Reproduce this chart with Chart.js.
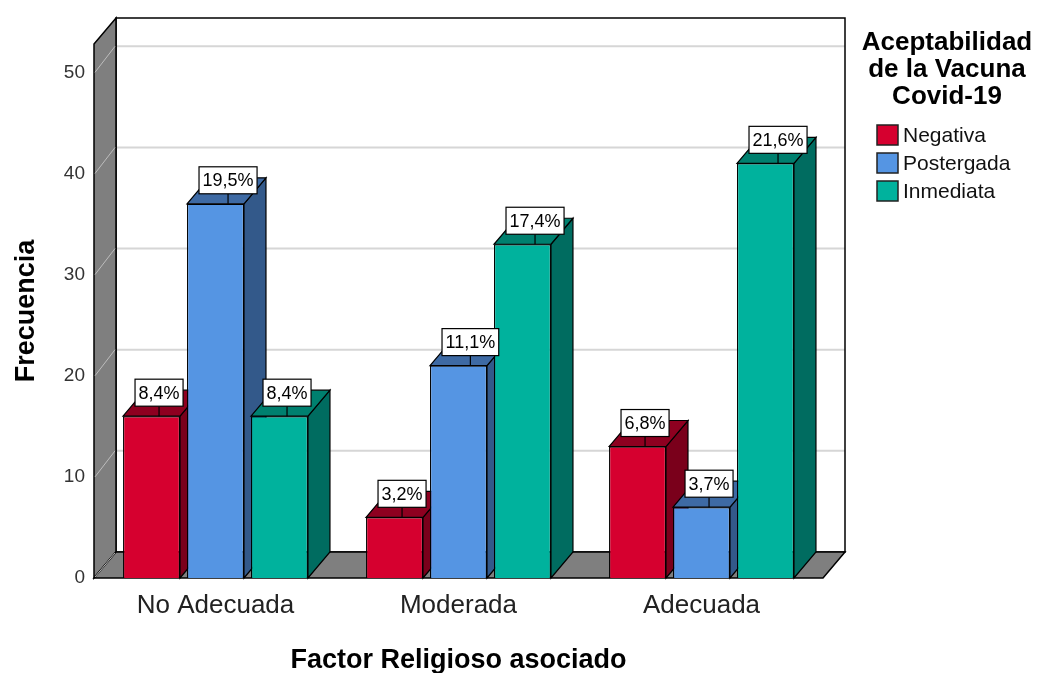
<!DOCTYPE html>
<html>
<head>
<meta charset="utf-8">
<script src="https://cdn.jsdelivr.net/npm/chart.js@4"></script>
<style>
  html, body { margin: 0; padding: 0; background: #fff; }
</style>
</head>
<body>
<canvas id="chart" width="1043" height="673"></canvas>
<script>
'use strict';

// ------------------------------- Data ------------------------------//
const categories = ['No Adecuada', 'Moderada', 'Adecuada'];
const seriesNames = ['Negativa', 'Postergada', 'Inmediata'];
const negativa = [16, 6, 13];
const postergada = [37, 21, 7];
const inmediata = [16, 33, 41];
const yTicks = [0, 10, 20, 30, 40, 50];

// ------------------------------- Styles ------------------------------//
const FONT = "'Liberation Sans', Arial, sans-serif";
const DX = 22;   // depth offset to the right
const DY = 26;   // depth offset upwards
const frontColors = ['#d6002f', '#5595e3', '#00b29d'];
const topColors = ['#8e0020', '#3e6aa4', '#00806f'];
const sideColors = ['#7a001b', '#33598a', '#006c60'];

const allCounts = [negativa, postergada, inmediata];
const total = allCounts.flat().reduce((a, b) => a + b, 0);

function pctLabel(v) {
  return (v / total * 100).toFixed(1).replace('.', ',') + '%';
}

function poly(ctx, pts, fill, stroke, lw) {
  ctx.beginPath();
  ctx.moveTo(pts[0][0], pts[0][1]);
  for (let i = 1; i < pts.length; i++) ctx.lineTo(pts[i][0], pts[i][1]);
  ctx.closePath();
  if (fill) { ctx.fillStyle = fill; ctx.fill(); }
  if (stroke) { ctx.lineWidth = lw || 1; ctx.strokeStyle = stroke; ctx.stroke(); }
}

// walls, floor and the depth faces of every bar
const depthPlugin = {
  id: 'depth3d',
  beforeDatasetsDraw(chart) {
    const {ctx, chartArea: a, scales: {y}} = chart;
    ctx.save();

    // back wall
    poly(ctx, [[a.left + DX, a.top - DY], [a.right + DX, a.top - DY],
      [a.right + DX, a.bottom - DY], [a.left + DX, a.bottom - DY]], '#fff');
    ctx.lineWidth = 2;
    ctx.strokeStyle = '#d6d6d6';
    for (const t of y.ticks) {
      if (t.value === 0) continue;
      const py = y.getPixelForValue(t.value) - DY;
      ctx.beginPath();
      ctx.moveTo(a.left + DX, py);
      ctx.lineTo(a.right + DX, py);
      ctx.stroke();
    }
    poly(ctx, [[a.left + DX, a.top - DY], [a.right + DX, a.top - DY],
      [a.right + DX, a.bottom - DY], [a.left + DX, a.bottom - DY]], null, '#000', 1.5);

    // left side wall
    poly(ctx, [[a.left, a.top], [a.left + DX, a.top - DY],
      [a.left + DX, a.bottom - DY], [a.left, a.bottom]], '#7f7f7f', '#000', 1.5);
    ctx.lineWidth = 1;
    ctx.strokeStyle = '#bdbdbd';
    for (const t of y.ticks) {
      if (t.value === 0) continue;
      const py = y.getPixelForValue(t.value);
      ctx.beginPath();
      ctx.moveTo(a.left + 1, py);
      ctx.lineTo(a.left + DX - 1, py - DY);
      ctx.stroke();
    }

    // floor
    poly(ctx, [[a.left, a.bottom], [a.right, a.bottom],
      [a.right + DX, a.bottom - DY], [a.left + DX, a.bottom - DY]], '#7f7f7f', '#000', 1.5);
    ctx.lineWidth = 1;
    ctx.strokeStyle = '#bdbdbd';
    ctx.beginPath();
    ctx.moveTo(a.left + 1, a.bottom - 1);
    ctx.lineTo(a.left + DX - 1, a.bottom - DY + 1);
    ctx.stroke();

    // bar tops and sides, left to right
    const bars = [];
    chart.data.datasets.forEach((ds, i) => {
      chart.getDatasetMeta(i).data.forEach(el => bars.push({el, i}));
    });
    bars.sort((p, q) => p.el.x - q.el.x);
    for (const {el, i} of bars) {
      const l = el.x - el.width / 2;
      const r = el.x + el.width / 2;
      const t = el.y;
      const b = el.base;
      poly(ctx, [[r, t], [r + DX, t - DY], [r + DX, b - DY], [r, b]], sideColors[i], '#000', 1.2);
      poly(ctx, [[l, t], [l + DX, t - DY], [r + DX, t - DY], [r, t]], topColors[i], '#000', 1.2);
    }
    ctx.restore();
  },

  afterDatasetsDraw(chart) {
    const {ctx} = chart;
    ctx.save();
    ctx.font = '18px ' + FONT;
    ctx.textAlign = 'center';
    ctx.textBaseline = 'middle';
    chart.data.datasets.forEach((ds, i) => {
      chart.getDatasetMeta(i).data.forEach((el, j) => {
        const text = pctLabel(ds.data[j]);
        const w = ctx.measureText(text).width + 7;
        const h = 27;
        const left = el.x - el.width / 2 + 12;
        const bottom = el.y - 10;
        const cx = left + w / 2;
        ctx.lineWidth = 1.2;
        ctx.strokeStyle = '#000';
        ctx.beginPath();
        ctx.moveTo(cx, bottom);
        ctx.lineTo(cx, el.y);
        ctx.stroke();
        ctx.fillStyle = '#fff';
        ctx.fillRect(left, bottom - h, w, h);
        ctx.strokeRect(left, bottom - h, w, h);
        ctx.fillStyle = '#000';
        ctx.fillText(text, cx, bottom - h / 2 + 1);
      });
    });
    ctx.restore();
  },

  afterDraw(chart) {
    const {ctx} = chart;
    ctx.save();
    // legend title
    ctx.fillStyle = '#000';
    ctx.font = 'bold 26px ' + FONT;
    ctx.textAlign = 'center';
    ctx.textBaseline = 'middle';
    ['Aceptabilidad', 'de la Vacuna', 'Covid-19'].forEach((line, k) => {
      ctx.fillText(line, 947, 43 + k * 27);
    });
    // legend items
    ctx.font = '21px ' + FONT;
    ctx.textAlign = 'left';
    chart.data.datasets.forEach((ds, i) => {
      const by = 125 + i * 28;
      ctx.fillStyle = ds.backgroundColor;
      ctx.fillRect(877, by, 21, 20);
      ctx.lineWidth = 1.5;
      ctx.strokeStyle = '#222';
      ctx.strokeRect(877, by, 21, 20);
      ctx.fillStyle = '#111';
      ctx.fillText(ds.label, 903, by + 11);
    });
    ctx.restore();
  }
};

// ------------------------------- Chart ------------------------------//
const ctx = document.getElementById('chart').getContext('2d');
const datasets = allCounts.map((data, i) => ({
  label: seriesNames[i],
  data: data,
  backgroundColor: frontColors[i],
  borderColor: '#000',
  borderWidth: 1.2,
  barPercentage: 0.89,
  categoryPercentage: 0.79
}));

new Chart(ctx, {
  type: 'bar',
  data: { labels: categories, datasets: datasets },
  options: {
    responsive: false,
    animation: false,
    layout: { padding: { top: 44, right: 220, left: 0, bottom: 0 } },
    plugins: {
      legend: { display: false },
      tooltip: { enabled: false }
    },
    scales: {
      x: {
        grid: { display: false, drawTicks: false },
        border: { display: false },
        ticks: { font: { family: FONT, size: 26 }, color: '#222', padding: 12 },
        title: {
          display: true,
          text: 'Factor Religioso asociado',
          font: { family: FONT, size: 27, weight: 'bold' },
          color: '#000',
          padding: { top: 0, bottom: -4 }
        },
        afterFit(scale) { scale.height = 95; }
      },
      y: {
        min: 0,
        max: 52.8,
        grid: { display: false, drawTicks: false },
        border: { display: false },
        ticks: { font: { family: FONT, size: 19 }, color: '#333', padding: 9 },
        afterBuildTicks(scale) {
          scale.ticks = yTicks.map(v => ({ value: v }));
        },
        title: {
          display: true,
          text: 'Frecuencia',
          font: { family: FONT, size: 27, weight: 'bold' },
          color: '#000',
          padding: { top: 10, bottom: 0 }
        },
        afterFit(scale) { scale.width = 94; }
      }
    }
  },
  plugins: [depthPlugin]
});
</script>
</body>
</html>
